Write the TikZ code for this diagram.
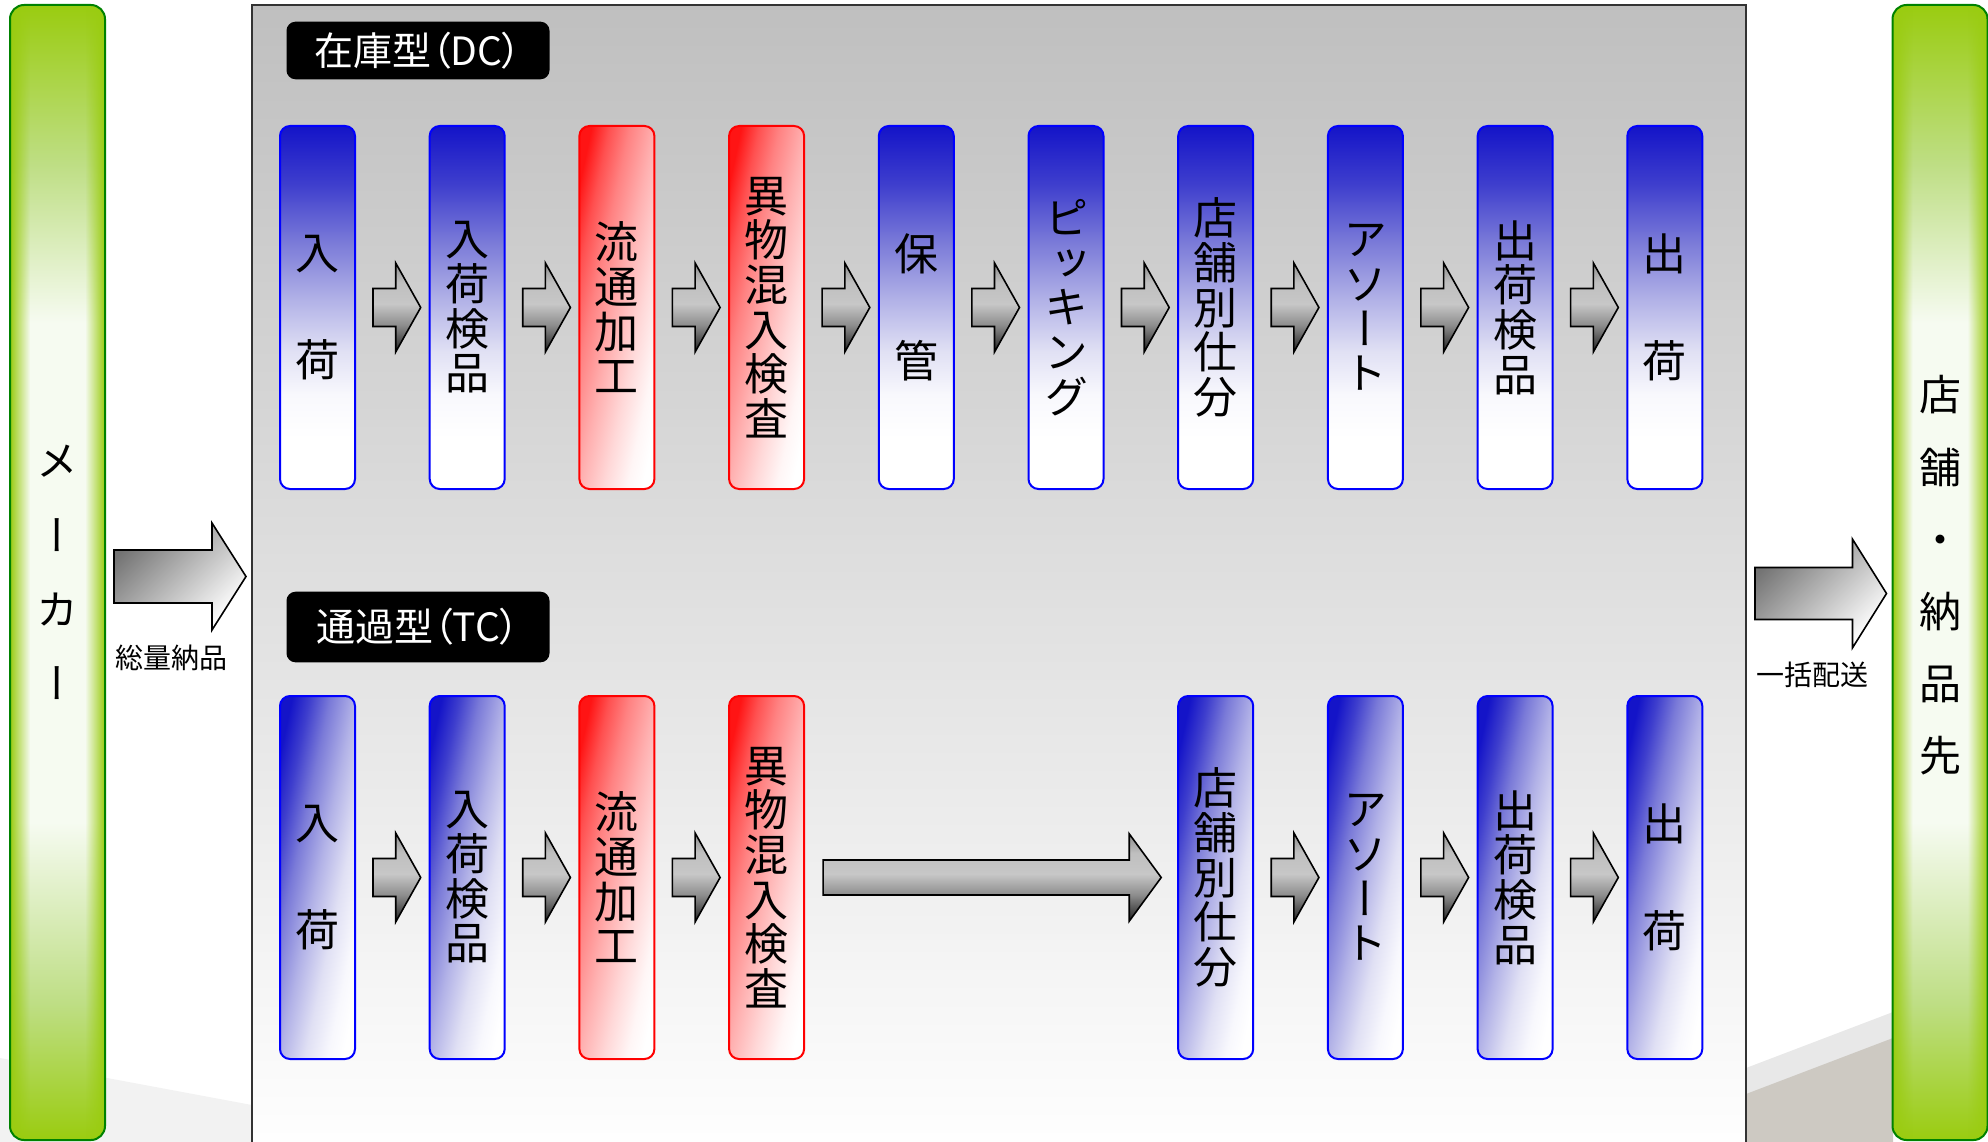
\documentclass[tikz,border=0pt]{standalone}
\usepackage{fontspec}
\usetikzlibrary{calc,fadings}
\newfontfamily\jpv[RawFeature=+vert]{Noto Sans CJK JP}
\newfontfamily\jpp[RawFeature=+palt]{Noto Sans CJK JP}
\definecolor{dblue}{RGB}{20,20,200}
\definecolor{dred}{RGB}{255,20,20}
\definecolor{gbar}{RGB}{154,204,16}
\definecolor{gpale}{RGB}{246,251,241}
\definecolor{gmid}{RGB}{190,222,132}
\definecolor{gedge}{RGB}{0,130,0}
\definecolor{swoosh}{RGB}{205,201,194}
\definecolor{bA}{RGB}{62,62,205}
\definecolor{bB}{RGB}{122,122,216}
\definecolor{bC}{RGB}{178,178,231}
\definecolor{bD}{RGB}{224,224,244}
\definecolor{bE}{RGB}{248,248,253}
\definecolor{rA}{RGB}{255,80,80}
\definecolor{rB}{RGB}{255,130,130}
\definecolor{rC}{RGB}{255,176,176}
\definecolor{rD}{RGB}{255,216,216}
\definecolor{rE}{RGB}{255,246,246}
\pgfdeclareverticalshading{greenshade}{100bp}{color(0bp)=(gbar); color(25bp)=(gbar); color(31bp)=(gmid); color(39bp)=(gpale); color(61bp)=(gpale); color(68bp)=(gmid); color(75bp)=(gbar); color(100bp)=(gbar)}
\pgfdeclareverticalshading{bluefade}{100bp}{color(0bp)=(white); color(25bp)=(white); color(32bp)=(white); color(38bp)=(bE); color(44bp)=(bD); color(51bp)=(bC); color(59bp)=(bB); color(67bp)=(bA); color(75bp)=(dblue); color(100bp)=(dblue)}
\pgfdeclareverticalshading{bluediag}{100bp}{color(0bp)=(white); color(25bp)=(white); color(31bp)=(bE); color(40bp)=(bD); color(50bp)=(bC); color(60bp)=(bB); color(68bp)=(bA); color(75bp)=(dblue); color(100bp)=(dblue)}
\pgfdeclareverticalshading{reddiag}{100bp}{color(0bp)=(white); color(25bp)=(white); color(31bp)=(rE); color(40bp)=(rD); color(50bp)=(rC); color(60bp)=(rB); color(68bp)=(rA); color(75bp)=(dred); color(100bp)=(dred)}
\pgfdeclareverticalshading{arrshade}{100bp}{color(0bp)=(black!88); color(25bp)=(black!88); color(40bp)=(black!45); color(52bp)=(black!22); color(64bp)=(black!25); color(75bp)=(black!45); color(100bp)=(black!45)}
\tikzfading[name=fadeR, left color=transparent!0, right color=transparent!100]
\tikzfading[name=fadeL, left color=transparent!100, right color=transparent!0]
% #1 style, #2 from node, #3 to node, #4 start gap, #5 end gap, #6 head length, #7 body half, #8 head half, #9 y
\newcommand\blockarrow[9]{%
  \path[#1] let \p1=(#2.east), \p2=(#3.west) in
    (\x1+#4,#9+#7) -- (\x2-#5-#6,#9+#7) -- (\x2-#5-#6,#9+#8) -- (\x2-#5,#9) --
    (\x2-#5-#6,#9-#8) -- (\x2-#5-#6,#9-#7) -- (\x1+#4,#9-#7) -- cycle;}
\begin{document}
\begin{tikzpicture}[x=1pt,y=-1pt,
  proc/.style={draw, line width=2pt, rounded corners=10pt, minimum width=75pt, minimum height=363pt,
    inner sep=0pt, outer sep=0pt, align=center, text=black, font=\jpv\fontsize{44}{44.7}\selectfont},
  bluev/.style={proc, draw=blue, shade, shading=bluefade},
  blued/.style={proc, draw=blue, shade, shading=bluediag, shading angle=78},
  redd/.style={proc, draw=red, shade, shading=reddiag, shading angle=78},
  tag/.style={fill=black, rounded corners=9pt, text=white, minimum width=263pt, inner sep=0pt,
    font=\jpp\fontsize{39}{40}\selectfont},
  panelbox/.style={draw=black!80, line width=2pt, top color=black!25, bottom color=white,
    minimum width=1494pt, minimum height=1155pt, inner sep=0pt, outer sep=0pt},
  bar/.style={shade, shading=greenshade, rounded corners=14pt, minimum width=95pt, minimum height=1135pt,
    inner sep=0pt, outer sep=0pt},
  barborder/.style={draw=gedge, line width=2pt, rounded corners=14pt},
  bartext/.style={align=center, text=black, inner sep=0pt},
  smallarr/.style={shade, shading=arrshade, draw=black, line width=1.6pt, line join=miter},
  bigarr/.style={draw=black, line width=1.6pt, line join=miter, top color=black!55, bottom color=white, shading angle=45},
  arrlabel/.style={text=black, inner sep=0pt, font=\jpp\fontsize{28}{30}\selectfont}]
\useasboundingbox (0,0) rectangle (1988,1142);
\clip (0,0) rectangle (1988,1142);
% slide background swoosh
\fill[black!5] (0,1058) -- (252,1105) -- (252,1142) -- (0,1142) -- cycle;
\fill[black!9] (1746,1068) -- (1893,1012) -- (1893,1040) -- (1746,1095) -- cycle;
\fill[swoosh] (1746,1094) -- (1893,1038) -- (1893,1142) -- (1746,1142) -- cycle;
% main panel
\node[panelbox] (panel) at (999,582.5) {};
\node[tag, minimum height=57.6pt] (dc) at (418,50.5) {在庫型（DC）};
\node[tag, minimum height=70.6pt] (tc) at (418,627) {通過型（TC）};
% top row (DC)
\node[bluev] (t1) at (317.5,307.5) {入\\[62.3pt]荷};
\node[bluev] (t2) at (467.2,307.5) {入\\荷\\検\\品};
\node[redd]  (t3) at (616.9,307.5) {流\\通\\加\\工};
\node[redd]  (t4) at (766.6,307.5) {異\\物\\混\\入\\検\\査};
\node[bluev] (t5) at (916.3,307.5) {保\\[62.3pt]管};
\node[bluev] (t6) at (1066.0,307.5) {ピ\\ッ\\キ\\ン\\グ};
\node[bluev] (t7) at (1215.7,307.5) {店\\舗\\別\\仕\\分};
\node[bluev] (t8) at (1365.4,307.5) {ア\\ソ\\ー\\ト};
\node[bluev] (t9) at (1515.1,307.5) {出\\荷\\検\\品};
\node[bluev] (t10) at (1664.8,307.5) {出\\[62.3pt]荷};
% bottom row (TC)
\node[blued] (b1) at (317.5,877.5) {入\\[62.3pt]荷};
\node[blued] (b2) at (467.2,877.5) {入\\荷\\検\\品};
\node[redd]  (b3) at (616.9,877.5) {流\\通\\加\\工};
\node[redd]  (b4) at (766.6,877.5) {異\\物\\混\\入\\検\\査};
\node[blued] (b7) at (1215.7,877.5) {店\\舗\\別\\仕\\分};
\node[blued] (b8) at (1365.4,877.5) {ア\\ソ\\ー\\ト};
\node[blued] (b9) at (1515.1,877.5) {出\\荷\\検\\品};
\node[blued] (b10) at (1664.8,877.5) {出\\[62.3pt]荷};
% step arrows
\foreach \a/\b in {t1/t2,t2/t3,t3/t4,t4/t5,t5/t6,t6/t7,t7/t8,t8/t9,t9/t10,b1/b2,b2/b3,b3/b4,b7/b8,b8/b9,b9/b10}
  {\blockarrow{smallarr}{\a}{\b}{18pt}{9pt}{25pt}{19pt}{44.5pt}{\y1}}
\blockarrow{smallarr}{b4}{b7}{19pt}{17pt}{32pt}{17.5pt}{43.7pt}{\y1}
% side bars
\node[bar] (maker) at (57.5,572.5) {};
\node[bar] (shop) at (1940,572.5) {};
\foreach \n in {maker,shop}{
  \begin{scope}
    \clip[rounded corners=14pt] (\n.north west) rectangle (\n.south east);
    \fill[gbar, path fading=fadeR] (\n.north west) rectangle ($(\n.south west)+(20,0)$);
    \fill[gbar, path fading=fadeL] ($(\n.north east)+(-20,0)$) rectangle (\n.south east);
  \end{scope}
  \draw[barborder] (\n.north west) rectangle (\n.south east);
}
\node[bartext, font=\jpv\fontsize{42}{74.3}\selectfont] (makerlbl) at (maker.center) {メ\\ー\\カ\\ー};
\node[bartext, font=\jpv\fontsize{42}{72.2}\selectfont] (shoplbl) at ($(shop.center)+(0,3)$) {店\\舗\\・\\納\\品\\先};
% flow arrows between bars and panel
\blockarrow{bigarr}{maker}{panel}{9pt}{6pt}{34pt}{26.5pt}{53.5pt}{-576.5pt}
\blockarrow{bigarr}{panel}{shop}{9pt}{6pt}{34pt}{26pt}{54.3pt}{-593.5pt}
\node[arrlabel] (inlbl) at (171,657.5) {総量納品};
\node[arrlabel] (outlbl) at (1812,675) {一括配送};
\end{tikzpicture}
\end{document}
